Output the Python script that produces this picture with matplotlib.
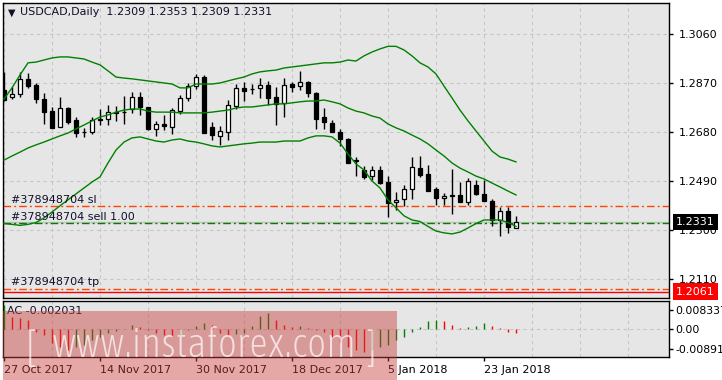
import pandas as pd
import matplotlib
matplotlib.use('Agg')
from matplotlib import pyplot as plt
from matplotlib import font_manager as fm
from matplotlib.patches import Rectangle
from matplotlib.ticker import FixedLocator, MultipleLocator
import matplotlib.transforms as mtransforms

# USDCAD daily, 27 Oct 2017 .. 29 Jan 2018
opens = [1.2843, 1.2816, 1.2826, 1.2884, 1.2862, 1.2807, 1.2761, 1.2698, 1.2772, 1.2727,
         1.2681, 1.2681, 1.2729, 1.2729, 1.2756, 1.2756, 1.2768, 1.2815, 1.2776, 1.2690,
         1.2711, 1.2701, 1.2763, 1.2811, 1.2858, 1.2894, 1.2698, 1.2664, 1.2681, 1.2782,
         1.2849, 1.2847, 1.2852, 1.2862, 1.2815, 1.2791, 1.2866, 1.2858, 1.2873, 1.2832,
         1.2740, 1.2716, 1.2681, 1.2653, 1.2571, 1.2533, 1.2509, 1.2533, 1.2486, 1.2407,
         1.2419, 1.2458, 1.2539, 1.2517, 1.2458, 1.2423, 1.2436, 1.2436, 1.2410, 1.2475,
         1.2440, 1.2414, 1.2339, 1.2374, 1.2309]
highs = [1.2914, 1.2856, 1.2911, 1.2908, 1.2869, 1.2832, 1.2778, 1.2815, 1.2778, 1.2740,
         1.2694, 1.2740, 1.2768, 1.2785, 1.2782, 1.2820, 1.2835, 1.2834, 1.2778, 1.2723,
         1.2746, 1.2772, 1.2823, 1.2869, 1.2905, 1.2901, 1.2720, 1.2703, 1.2804, 1.2866,
         1.2875, 1.2866, 1.2888, 1.2879, 1.2856, 1.2888, 1.2875, 1.2917, 1.2879, 1.2836,
         1.2772, 1.2727, 1.2692, 1.2658, 1.2582, 1.2548, 1.2548, 1.2548, 1.2509, 1.2449,
         1.2475, 1.2582, 1.2587, 1.2552, 1.2468, 1.2442, 1.2537, 1.2487, 1.2500, 1.2494,
         1.2494, 1.2419, 1.2391, 1.2391, 1.2353]
lows = [1.2800, 1.2807, 1.2817, 1.2849, 1.2794, 1.2710, 1.2697, 1.2698, 1.2711, 1.2662,
        1.2662, 1.2672, 1.2707, 1.2707, 1.2723, 1.2710, 1.2754, 1.2746, 1.2688, 1.2664,
        1.2688, 1.2672, 1.2750, 1.2801, 1.2846, 1.2677, 1.2649, 1.2630, 1.2649, 1.2771,
        1.2801, 1.2826, 1.2811, 1.2785, 1.2707, 1.2737, 1.2836, 1.2843, 1.2815, 1.2692,
        1.2692, 1.2681, 1.2626, 1.2561, 1.2509, 1.2497, 1.2494, 1.2478, 1.2352, 1.2378,
        1.2394, 1.2420, 1.2507, 1.2452, 1.2397, 1.2397, 1.2362, 1.2410, 1.2397, 1.2436,
        1.2414, 1.2316, 1.2277, 1.2287, 1.2309]
closes = [1.2804, 1.2826, 1.2884, 1.2860, 1.2807, 1.2759, 1.2697, 1.2772, 1.2720, 1.2677,
          1.2680, 1.2727, 1.2725, 1.2759, 1.2755, 1.2757, 1.2816, 1.2776, 1.2690, 1.2710,
          1.2704, 1.2765, 1.2811, 1.2858, 1.2892, 1.2677, 1.2668, 1.2685, 1.2785, 1.2849,
          1.2840, 1.2846, 1.2862, 1.2811, 1.2789, 1.2862, 1.2856, 1.2873, 1.2830, 1.2730,
          1.2720, 1.2681, 1.2652, 1.2561, 1.2566, 1.2507, 1.2533, 1.2481, 1.2406, 1.2416,
          1.2458, 1.2543, 1.2513, 1.2452, 1.2423, 1.2431, 1.2430, 1.2410, 1.2491, 1.2438,
          1.2414, 1.2339, 1.2374, 1.2310, 1.2331]

# Bollinger bands as drawn
bb_upper = [1.2808, 1.2851, 1.2901, 1.2948, 1.2951, 1.2959, 1.2967, 1.2971, 1.2971, 1.2967,
            1.2963, 1.2951, 1.2940, 1.2917, 1.2893, 1.2889, 1.2886, 1.2882, 1.2878, 1.2874,
            1.2870, 1.2866, 1.2851, 1.2851, 1.2866, 1.2866, 1.2866, 1.2870, 1.2878, 1.2886,
            1.2893, 1.2905, 1.2913, 1.2917, 1.2920, 1.2928, 1.2932, 1.2936, 1.2940, 1.2944,
            1.2948, 1.2948, 1.2951, 1.2959, 1.2955, 1.2975, 1.2990, 1.3002, 1.3012, 1.3012,
            1.2998, 1.2975, 1.2948, 1.2932, 1.2905, 1.2858, 1.2812, 1.2765, 1.2723, 1.2684,
            1.2645, 1.2606, 1.2583, 1.2575, 1.2564]
bb_middle = [1.2571, 1.2587, 1.2602, 1.2618, 1.2630, 1.2641, 1.2653, 1.2665, 1.2676, 1.2692,
             1.2707, 1.2723, 1.2738, 1.2746, 1.2757, 1.2765, 1.2769, 1.2769, 1.2761, 1.2757,
             1.2757, 1.2757, 1.2754, 1.2754, 1.2754, 1.2754, 1.2757, 1.2761, 1.2765, 1.2773,
             1.2777, 1.2777, 1.2781, 1.2785, 1.2789, 1.2789, 1.2793, 1.2797, 1.2800, 1.2800,
             1.2804, 1.2797, 1.2789, 1.2773, 1.2761, 1.2754, 1.2742, 1.2734, 1.2711, 1.2696,
             1.2684, 1.2668, 1.2653, 1.2634, 1.2610, 1.2587, 1.2560, 1.2540, 1.2525, 1.2509,
             1.2498, 1.2482, 1.2467, 1.2451, 1.2436]
bb_lower = [1.2325, 1.2322, 1.2318, 1.2322, 1.2329, 1.2347, 1.2370, 1.2394, 1.2417, 1.2440,
            1.2463, 1.2486, 1.2506, 1.2560, 1.2610, 1.2641, 1.2657, 1.2661, 1.2653, 1.2645,
            1.2641, 1.2649, 1.2653, 1.2645, 1.2641, 1.2634, 1.2626, 1.2622, 1.2626, 1.2630,
            1.2634, 1.2637, 1.2641, 1.2641, 1.2641, 1.2645, 1.2645, 1.2645, 1.2657, 1.2665,
            1.2665, 1.2661, 1.2637, 1.2595, 1.2556, 1.2533, 1.2490, 1.2463, 1.2417, 1.2386,
            1.2355, 1.2339, 1.2333, 1.2314, 1.2296, 1.2289, 1.2285, 1.2292, 1.2308, 1.2325,
            1.2339, 1.2339, 1.2339, 1.2329, 1.2314]

# Accelerator oscillator
ac = [0.0105, 0.0053, 0.0049, 0.0038, -0.0013, -0.0028, -0.0065, -0.0080, -0.0094, -0.0080,
      -0.0072, -0.0050, -0.0038, -0.0021, -0.0009, -0.0003, 0.0016, 0.0009, -0.0006, -0.0021,
      -0.0028, -0.0032, -0.0031, -0.0006, 0.0012, 0.0027, 0.0016, -0.0021, -0.0028, -0.0024,
      -0.0021, 0.0012, 0.0058, 0.0068, 0.0038, 0.0016, 0.0009, 0.0010, 0.0003, -0.0006,
      -0.0013, -0.0043, -0.0058, -0.0080, -0.0094, -0.0102, -0.0094, -0.0080, -0.0072, -0.0050,
      -0.0035, -0.0013, 0.0006, 0.0035, 0.0038, 0.0035, 0.0016, 0.0001, 0.0006, 0.0012,
      0.0027, 0.0012, 0.0003, -0.0013, -0.002031]

# order levels
sl_price = 1.2393
open_price = 1.2326
bid_price = 1.2331
tp_price = 1.2073
ask_line = 1.2061

price_ticks = [1.3060, 1.2870, 1.2680, 1.2490, 1.2300, 1.2110]
ac_ticks = [0.008337, 0.0, -0.00891]
ac_tick_labels = ['0.008337', '0.00', '-0.00891']
tick_dates = ['2017-10-27', '2017-11-14', '2017-11-30', '2017-12-18', '2018-01-05', '2018-01-23']

dates = pd.bdate_range('2017-10-27', '2018-01-29')
dates = dates[~dates.isin(pd.to_datetime(['2017-12-25', '2018-01-01']))]
idx = list(range(len(dates)))

W, H = 722, 380
fig = plt.figure(figsize=(W / 100, H / 100), dpi=100)
fig.patch.set_facecolor('white')


def fx(px):
    return px / W


def fy(py):
    return 1 - py / H


bg = '#e6e6e6'
grid_kw = dict(color='#c6c6c6', linestyle=(0, (3, 3)), linewidth=0.8)
ax = fig.add_axes([fx(3), fy(298), fx(669) - fx(3), fy(3) - fy(298)], facecolor=bg)
ax2 = fig.add_axes([fx(3), fy(356.5), fx(669) - fx(3), fy(301) - fy(356.5)], facecolor=bg)

xmin, xmax = -0.125, 83.125

# candles
for i in idx:
    o, h, l, c = opens[i], highs[i], lows[i], closes[i]
    ax.vlines(i, l, h, color='black', lw=1, zorder=3)
    up = c >= o
    ax.bar(i, max(abs(c - o), 0.00001), bottom=min(o, c), width=0.6,
           color='white' if up else 'black', edgecolor='black', lw=0.9, zorder=4)

ax.plot(idx, bb_upper, color='#008000', lw=1, zorder=5)
ax.plot(idx, bb_middle, color='#008000', lw=1, zorder=5)
ax.plot(idx, bb_lower, color='#008000', lw=1, zorder=5)

dashdot = (0, (5.5, 2.2, 1.4, 2.2))
ax.axhline(bid_price, color='#c0c0c0', lw=1, zorder=2)
ax.axhline(sl_price, color='#ff4500', lw=1, ls=dashdot, zorder=2)
ax.axhline(open_price, color='#008000', lw=1, ls=dashdot, zorder=2)
ax.axhline(tp_price, color='#ff4500', lw=1, ls=dashdot, zorder=2)
ax.axhline(ask_line, color='#ff0000', lw=1, zorder=2)

ax.set_xlim(xmin, xmax)
ax.set_ylim(1.20365, 1.3180)
ax.yaxis.tick_right()
ax.set_yticks(price_ticks)
ax.set_yticklabels(['%.4f' % p for p in price_ticks])
ax.tick_params(axis='y', direction='out', length=3, width=1, pad=4, labelsize=8, colors='black')
ax.xaxis.set_major_locator(FixedLocator([]))
ax.xaxis.set_minor_locator(MultipleLocator(6))
ax.tick_params(axis='x', which='both', length=0, labelbottom=False)
ax.grid(True, axis='y', **grid_kw)
ax.grid(True, axis='x', which='minor', **grid_kw)
ax.set_axisbelow(True)
for s in ax.spines.values():
    s.set_color('black')
    s.set_linewidth(1)

# price boxes on the right scale
trans = mtransforms.blended_transform_factory(ax.transAxes, ax.transData)
ax.text(1.011, bid_price, '%.4f' % bid_price, transform=trans, color='white', fontsize=8,
        va='center', ha='left', clip_on=False,
        bbox=dict(boxstyle='square,pad=0.3', fc='black', ec='none'))
ax.text(1.011, ask_line, '%.4f' % ask_line, transform=trans, color='white', fontsize=8,
        va='center', ha='left', clip_on=False, zorder=6,
        bbox=dict(boxstyle='square,pad=0.3', fc='#ff0000', ec='none'))

# AC histogram
ac_cols = ['#008000' if (i == 0 or ac[i] > ac[i - 1]) else '#ff0000' for i in idx]
ax2.vlines(idx, 0, ac, colors=ac_cols, lw=1, zorder=3)
ax2.set_xlim(xmin, xmax)
ax2.set_ylim(-0.0123, 0.01226)
ax2.yaxis.tick_right()
ax2.set_yticks(ac_ticks)
ax2.set_yticklabels(ac_tick_labels)
ax2.tick_params(axis='y', direction='out', length=3, width=1, pad=1.5, labelsize=7.8)
tick_pos = [i for i in idx if dates[i].strftime('%Y-%m-%d') in tick_dates]
ax2.set_xticks(tick_pos)
ax2.set_xticklabels(['%d %s' % (dates[i].day, dates[i].strftime('%b %Y')) for i in tick_pos],
                    ha='left')
ax2.xaxis.set_minor_locator(MultipleLocator(6))
ax2.tick_params(axis='x', which='major', direction='out', length=3, width=1, pad=3, labelsize=8)
ax2.tick_params(axis='x', which='minor', length=0)
ax2.grid(True, axis='x', which='minor', **grid_kw)
ax2.axhline(0, zorder=1, **grid_kw)
for s in ax2.spines.values():
    s.set_color('black')
    s.set_linewidth(1)

# header and order labels
txt = '#10102a'
fig.text(fx(7.5), fy(12.5), '\u25bc', fontsize=7, color=txt, va='center', ha='left')
fig.text(fx(20), fy(12), 'USDCAD,Daily  1.2309 1.2353 1.2309 1.2331', fontsize=8,
         color=txt, va='center', ha='left')
fig.text(fx(11), fy(200), '#378948704 sl', fontsize=8, color=txt, va='center')
fig.text(fx(11), fy(216.5), '#378948704 sell 1.00', fontsize=8, color=txt, va='center')
fig.text(fx(11), fy(282), '#378948704 tp', fontsize=8, color=txt, va='center')
fig.text(fx(7), fy(311.5), 'AC -0.002031', fontsize=8, color=txt, va='center')

# watermark: prefer a condensed, light face if one is installed
wm_font = None
best = -1
for f in fm.fontManager.ttflist:
    n = (f.name + ' ' + f.fname).lower()
    score = 0
    if 'condensed' in n or 'narrow' in n or str(f.stretch) in ('condensed', 'semi-condensed'):
        score += 4
    if 'light' in n or f.weight in (200, 300, 'light', 'extra-light'):
        score += 2
    if 'bold' in n or 'italic' in n or 'oblique' in n or 'mono' in n or 'cjk' in n:
        score -= 10
    if score > best:
        best, wm_font = score, f.fname
wm_prop = fm.FontProperties(fname=wm_font) if best > 0 else fm.FontProperties(family='DejaVu Sans')

fig.patches.append(Rectangle((fx(3), fy(380)), fx(397) - fx(3), fy(311) - fy(380),
                             transform=fig.transFigure, fc='#c83c3c', alpha=0.45,
                             ec='none', zorder=10))
wm_text = fig.text(fx(52), fy(357), 'www.instaforex.com', fontproperties=wm_prop, fontsize=30,
                   color='white', alpha=0.7, va='baseline', ha='left', zorder=11)
fig.canvas.draw()
wm_w = wm_text.get_window_extent().width
wm_text.set_fontsize(30 * 305.0 / wm_w)
b1 = fig.text(fx(26), fy(361), '[', fontproperties=wm_prop, fontsize=30, color='white',
              alpha=0.7, va='baseline', ha='left', zorder=11)
b2 = fig.text(fx(366), fy(361), ']', fontproperties=wm_prop, fontsize=30, color='white',
              alpha=0.7, va='baseline', ha='left', zorder=11)

fig.savefig('out.png', dpi=100)
